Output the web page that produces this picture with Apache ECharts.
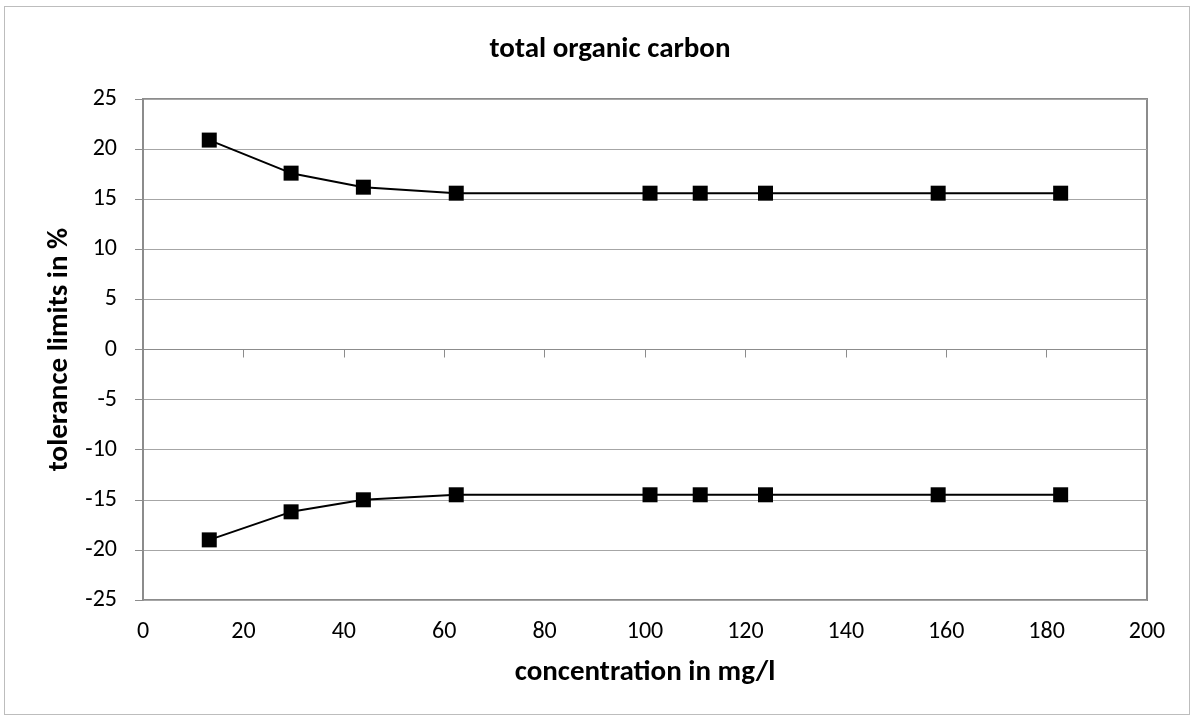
<!DOCTYPE html>
<html lang="en">
<head>
    <meta charset="UTF-8">
    <title>total organic carbon</title>
    <script src="https://cdn.jsdelivr.net/npm/echarts@6/dist/echarts.min.js"></script>
</head>
<style>
    *{
        margin: 0;
        padding: 0;
    }
    html , body{
        width: 100%;
        height: 100%;
        overflow: hidden;
        background: #fff;
    }
    .container{
        position: absolute;
        left: 4px;
        top: 6px;
        width: 1186px;
        height: 709px;
        box-sizing: border-box;
        border: 1px solid #bdbdbd;
    }
</style>
<body>
<div class="container"></div>
<script>
    // concentration in mg/l
    let concentration = [13.2, 29.5, 43.9, 62.4, 101, 111, 124, 158.4, 182.8];
    // upper / lower tolerance limits in %
    let upperLimit = [20.9, 17.6, 16.2, 15.6, 15.6, 15.6, 15.6, 15.6, 15.6];
    let lowerLimit = [-19.0, -16.2, -15.0, -14.5, -14.5, -14.5, -14.5, -14.5, -14.5];

    let font = 'Carlito, "Open Sans", "Liberation Sans", sans-serif';

    let container = document.querySelector('.container');
    let mycharts = echarts.init(container);

    function pairs(ys) {
        return concentration.map((x, i) => [x, ys[i]]);
    }

    function lineSeries(name, ys) {
        return {
            name: name,
            type: 'line',
            data: pairs(ys),
            symbol: 'rect',
            symbolSize: 15,
            showAllSymbol: true,
            itemStyle: {color: '#000'},
            lineStyle: {color: '#000', width: 2},
            animation: false
        };
    }

    let option = {
        backgroundColor: '#fff',
        title: {
            text: 'total organic carbon',
            left: 600,
            top: 23,
            textAlign: 'center',
            textStyle: {fontFamily: font, fontSize: 29, fontWeight: 'bold', color: '#000'}
        },
        grid: {
            left: 138,
            right: 42,
            top: 92,
            bottom: 114,
            show: true,
            borderColor: '#8c8c8c',
            borderWidth: 2
        },
        xAxis: [{
            type: 'value',
            min: 0,
            max: 200,
            interval: 20,
            name: 'concentration in mg/l',
            nameLocation: 'middle',
            nameGap: 58,
            nameTextStyle: {fontFamily: font, fontSize: 29, fontWeight: 'bold', color: '#000'},
            axisLine: {show: false, onZero: false},
            axisTick: {show: false},
            axisLabel: {fontFamily: font, fontSize: 24, color: '#000', margin: 20},
            splitLine: {show: false}
        }, {
            type: 'value',
            min: 0,
            max: 200,
            interval: 20,
            position: 'bottom',
            axisLine: {show: true, onZero: true, lineStyle: {color: '#8c8c8c', width: 1}},
            axisTick: {show: true, length: 8, lineStyle: {color: '#8c8c8c'}},
            axisLabel: {show: false},
            splitLine: {show: false}
        }],
        yAxis: {
            type: 'value',
            min: -25,
            max: 25,
            interval: 5,
            name: 'tolerance limits in %',
            nameLocation: 'middle',
            nameGap: 66,
            nameTextStyle: {fontFamily: font, fontSize: 29, fontWeight: 'bold', color: '#000'},
            axisLine: {show: true, lineStyle: {color: '#8c8c8c', width: 2}},
            axisTick: {show: true, length: 8, lineStyle: {color: '#8c8c8c'}},
            axisLabel: {fontFamily: font, fontSize: 24, color: '#000', margin: 26},
            splitLine: {show: true, lineStyle: {color: '#a6a6a6', width: 1}}
        },
        series: [
            lineSeries('upper', upperLimit),
            lineSeries('lower', lowerLimit)
        ]
    };
    mycharts.setOption(option);
</script>

</body>
</html>
